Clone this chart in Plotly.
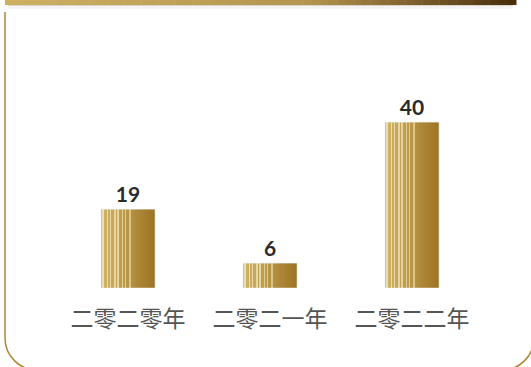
import plotly.graph_objects as go

# data
years = ["二零二零年", "二零二一年", "二零二二年"]
counts = [19, 6, 40]

W, H = 531, 367
L, R, T, B = 57, 48, 89, 79
PW, PH = W - L - R, H - T - B


def px(x):
    return (x - L) / PW


def py(y):
    return (H - B - y) / PH


def mix(c1, c2, t):
    a = [int(c1[i:i + 2], 16) for i in (1, 3, 5)]
    b = [int(c2[i:i + 2], 16) for i in (1, 3, 5)]
    return "rgb({},{},{})".format(*[round(a[i] + (b[i] - a[i]) * t) for i in range(3)])


fig = go.Figure()

# bars drawn as thin slices to fake the gradient + light stripes
bar_w = 0.38
n = 36
stripes = {1: 0.75, 4: 0.7, 6: 0.65, 9: 0.6, 11: 0.55, 14: 0.45, 16: 0.4, 19: 0.3}
for k in range(n):
    t = k / (n - 1)
    col = mix("#d1b566", "#9e7524", t)
    if k in stripes:
        col = mix("#d1b566", "#f4ead0", stripes[k])
    fig.add_trace(go.Bar(
        x=years, y=counts,
        width=bar_w / n * 1.05,
        offset=-bar_w / 2 + k * bar_w / n,
        marker=dict(color=col, line=dict(width=0)),
        hoverinfo="skip", showlegend=False,
    ))

# value labels
fig.add_trace(go.Bar(
    x=years, y=counts, width=bar_w,
    marker=dict(color="rgba(0,0,0,0)"),
    text=[str(v) for v in counts], textposition="outside",
    textfont=dict(family="Lato", size=21, color="#2b2b2b", weight="bold"),
    cliponaxis=False, showlegend=False, hoverinfo="skip",
))

shapes = []
# gold band at the top
m = 60
x0, x1 = 5, 516
for i in range(m):
    a = x0 + (x1 - x0) * i / m
    b = x0 + (x1 - x0) * (i + 1) / m + 0.5
    t = i / (m - 1)
    col = mix("#cdb062", "#b4944e", t / 0.6) if t < 0.6 else mix("#b4944e", "#4a2e0c", (t - 0.6) / 0.4)
    shapes.append(dict(type="rect", xref="paper", yref="paper",
                       x0=px(a), x1=px(b), y0=py(5), y1=py(0),
                       fillcolor=col, line=dict(width=0), layer="above"))
for j, op in enumerate([0.22, 0.12, 0.05]):
    shapes.append(dict(type="rect", xref="paper", yref="paper",
                       x0=px(x0 + 3), x1=px(x1 - 3), y0=py(6 + j * 1.5), y1=py(5 + j * 1.5),
                       fillcolor=f"rgba(80,60,30,{op})", line=dict(width=0)))

# rounded frame
r = 32
k = 0.5523 * r
xl, xr, yt, yb = 5, 534, 12, 370
pts = [
    f"M {px(xl)},{py(yt)}",
    f"L {px(xl)},{py(yb - r)}",
    f"C {px(xl)},{py(yb - r + k)} {px(xl + r - k)},{py(yb)} {px(xl + r)},{py(yb)}",
    f"L {px(xr - r)},{py(yb)}",
    f"C {px(xr - r + k)},{py(yb)} {px(xr)},{py(yb - r + k)} {px(xr)},{py(yb - r)}",
    f"L {px(xr)},{py(yt)}",
]
shapes.append(dict(type="path", xref="paper", yref="paper", path=" ".join(pts),
                   line=dict(color="#b08838", width=1.5)))

fig.update_layout(
    width=W, height=H,
    margin=dict(l=L, r=R, t=T, b=B),
    barmode="overlay",
    paper_bgcolor="white", plot_bgcolor="white",
    shapes=shapes,
    xaxis=dict(showgrid=False, showline=False, zeroline=False,
               ticks="outside", ticklen=10, tickcolor="rgba(0,0,0,0)",
               tickfont=dict(family="Noto Sans CJK SC", size=23, color="#555555")),
    yaxis=dict(range=[0, 48], visible=False),
)

fig.write_html("out.html", config={"displayModeBar": False},
               post_script="document.body.style.margin='0';")
